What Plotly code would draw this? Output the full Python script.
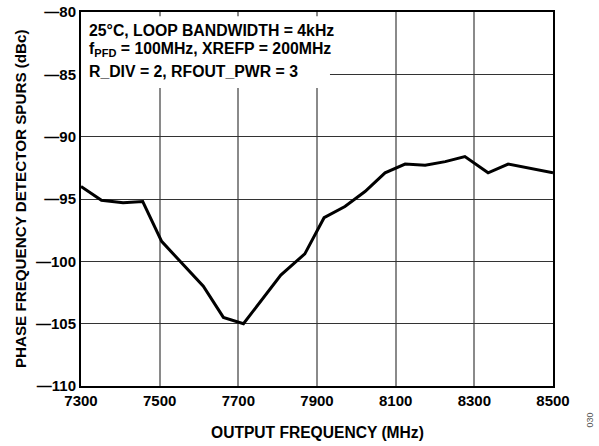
import plotly.graph_objects as go

# Output frequency (MHz) and PFD spur level (dBc)
freq_mhz = [7300, 7352, 7407, 7457, 7505, 7552, 7611, 7662, 7713, 7808, 7869,
            7918, 7971, 8022, 8073, 8124, 8175, 8226, 8276, 8335, 8386, 8500]
spur_dbc = [-94.0, -95.1, -95.3, -95.2, -98.4, -100.0, -102.0, -104.5, -105.0,
            -101.1, -99.4, -96.5, -95.6, -94.4, -92.9, -92.2, -92.3, -92.0,
            -91.6, -92.9, -92.2, -92.9]

x_ticks = [7300, 7500, 7700, 7900, 8100, 8300, 8500]
y_ticks = [-110, -105, -100, -95, -90, -85, -80]
y_tick_text = ["—110", "—105", "—100", "—95", "—90", "—85", "—80"]

conditions = [
    "25°C, LOOP BANDWIDTH = 4kHz",
    "f<sub>PFD</sub> = 100MHz, XREFP = 200MHz",
    "R_DIV = 2, RFOUT_PWR = 3",
]

FONT = "Arial, Liberation Sans, sans-serif"

fig = go.Figure()
fig.add_trace(go.Scatter(
    x=freq_mhz, y=spur_dbc, mode="lines",
    line=dict(color="black", width=3), showlegend=False,
))

# White panel behind the conditions text, covering the grid
fig.add_shape(type="rect", xref="x", yref="y", layer="between",
              x0=7300, x1=7933, y0=-86.1, y1=-80.35,
              fillcolor="white", line=dict(width=0))

for line_text, ypos in zip(conditions, [0.950, 0.900, 0.840]):
    fig.add_annotation(xref="paper", yref="paper", x=0.012, y=ypos,
                       xanchor="left", yanchor="middle", align="left", showarrow=False,
                       text=f"<b>{line_text}</b>",
                       font=dict(family=FONT, size=15.8, color="black"))

fig.add_annotation(xref="paper", yref="paper", x=-0.129, y=0.5,
                   xanchor="center", yanchor="middle", showarrow=False, textangle=-90,
                   text="<b>PHASE FREQUENCY DETECTOR SPURS (dBc)</b>",
                   font=dict(family=FONT, size=15.2, color="black"))
fig.add_annotation(xref="paper", yref="paper", x=0.5, y=-0.125,
                   xanchor="center", yanchor="middle", showarrow=False,
                   text="<b>OUTPUT FREQUENCY (MHz)</b>",
                   font=dict(family=FONT, size=15.6, color="black"))
fig.add_annotation(xref="paper", yref="paper", x=1.078, y=-0.09,
                   xanchor="center", yanchor="middle", showarrow=False, textangle=-90,
                   text="030", font=dict(family=FONT, size=9, color="#555555"))

fig.update_xaxes(
    range=[7300, 8500], tickmode="array", tickvals=x_ticks,
    ticktext=[f"<b>{v}</b>" for v in x_ticks],
    showgrid=True, gridcolor="#8a8a8a", gridwidth=1.5,
    showline=True, linecolor="black", linewidth=2, mirror=True,
    ticks="", tickfont=dict(family=FONT, size=15, color="black"),
    zeroline=False, automargin=False,
)
fig.update_yaxes(
    range=[-110, -80], tickmode="array", tickvals=y_ticks,
    ticktext=[f"<b>{t}</b>" for t in y_tick_text],
    showgrid=True, gridcolor="#333333", gridwidth=1.2,
    showline=True, linecolor="black", linewidth=2, mirror=True,
    ticks="", tickfont=dict(family=FONT, size=15, color="black"),
    zeroline=False, automargin=False,
)

fig.update_layout(
    width=599, height=446,
    margin=dict(l=81, r=46, t=12, b=60),
    paper_bgcolor="white", plot_bgcolor="white",
    font=dict(family=FONT),
)

fig.write_html("out.html")
